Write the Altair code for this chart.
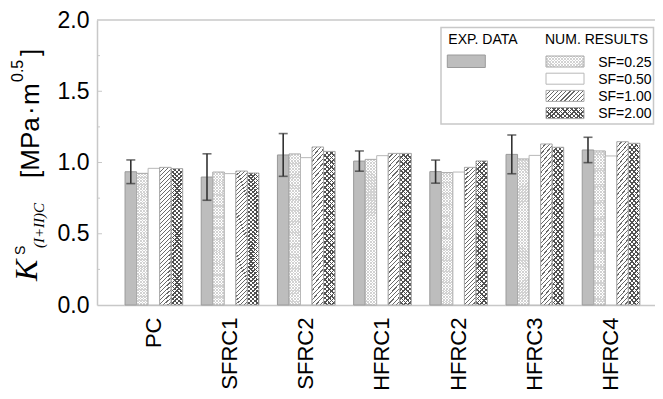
import altair as alt
import pandas as pd

categories = ["PC", "SFRC1", "SFRC2", "HFRC1", "HFRC2", "HFRC3", "HFRC4"]
series = ["EXP. DATA", "SF=0.25", "SF=0.50", "SF=1.00", "SF=2.00"]
exp_mean = [0.935, 0.898, 1.053, 1.010, 0.936, 1.057, 1.088]
exp_err = [0.083, 0.163, 0.150, 0.071, 0.081, 0.136, 0.089]
sf025 = [0.924, 0.933, 1.060, 1.022, 0.929, 1.025, 1.081]
sf050 = [0.959, 0.922, 1.034, 1.048, 0.933, 1.050, 1.046]
sf100 = [0.966, 0.940, 1.109, 1.064, 0.966, 1.130, 1.146]
sf200 = [0.957, 0.926, 1.078, 1.064, 1.011, 1.107, 1.135]
y_major = [0.5, 1.0, 1.5]
y_minor = [0.25, 0.75, 1.25, 1.75]

rows = []
for vals, s in zip([exp_mean, sf025, sf050, sf100, sf200], series):
    for c, v in zip(categories, vals):
        rows.append({"cat": c, "series": s, "value": v})
df = pd.DataFrame(rows)
err = pd.DataFrame({"cat": categories, "series": series[0],
                    "lo": [m - e for m, e in zip(exp_mean, exp_err)],
                    "hi": [m + e for m, e in zip(exp_mean, exp_err)]})
one = pd.DataFrame({"k": [0]})

W, H = 558, 285
FONT = "Liberation Sans"
EDGE = "#a8a8a8"
FRAME = "#c8c8c8"


def hatch(w, h, period, color, frac, bg, back=False):
    r = w / h
    s = (1 + r) / (1 + r * r)
    n = max(1, round((w + h) / period))
    stops = []
    for i in range(n):
        a, b, c = i / n, (i + frac) / n, (i + 1) / n
        stops += [alt.GradientStop(offset=a, color=color),
                  alt.GradientStop(offset=b, color=color),
                  alt.GradientStop(offset=b, color=bg),
                  alt.GradientStop(offset=c, color=bg)]
    x1, x2 = (1, 1 - s * r) if back else (0, s * r)
    return alt.LinearGradient(gradient="linear", stops=stops, x1=x1, y1=0, x2=x2, y2=s)


CLEAR = "rgba(255,255,255,0)"
BW, BH = 11.5, 145
LW, LH = 38, 11


def patterns(w, h):
    return {
        "dot_a": hatch(w, h, 3.0, "#d2d2d2", 0.4, "#ffffff"),
        "dot_b": hatch(w, h, 3.0, "#d2d2d2", 0.4, CLEAR, back=True),
        "diag": hatch(w, h, 4.2, "#6a6a6a", 0.28, "#ffffff"),
        "x_a": hatch(w, h, 4.4, "#505050", 0.34, "#ffffff"),
        "x_b": hatch(w, h, 4.4, "#505050", 0.34, CLEAR, back=True),
    }


PB = patterns(BW, BH)
PL = patterns(LW, LH)

xs = alt.X("cat:N", sort=categories,
           scale=alt.Scale(domain=categories, paddingInner=0.243, paddingOuter=0.283, align=0.65),
           axis=alt.Axis(title=None, labelAngle=270, labelFontSize=22, labelFont=FONT,
                         labelColor="#000", labelPadding=12, tickSize=0, ticks=False,
                         domainColor=FRAME, domainWidth=1.5, labelAlign="right",
                         labelBaseline="middle"))
xo = alt.XOffset("series:N", scale=alt.Scale(domain=series, paddingInner=0, paddingOuter=0))
ys = alt.Y("value:Q", scale=alt.Scale(domain=[0, 2], nice=False),
           axis=alt.Axis(title=None, values=[0, 0.5, 1.0, 1.5, 2.0], format=".1f",
                         labelFontSize=23, labelFont=FONT, labelColor="#000",
                         labelPadding=8, tickSize=0, ticks=False, grid=False,
                         domainColor=FRAME, domainWidth=1.5))

base = alt.Chart(df)


def bars(s, **mk):
    return base.transform_filter(alt.datum.series == s).mark_bar(**mk).encode(x=xs, xOffset=xo, y=ys)


layers = [
    bars(series[0], fill="#bdbdbd", stroke="#9a9a9a", strokeWidth=1),
    bars(series[1], fill=PB["dot_a"], strokeWidth=0),
    bars(series[1], fill=PB["dot_b"], stroke=EDGE, strokeWidth=1),
    bars(series[2], fill="#ffffff", stroke="#b8b8b8", strokeWidth=1),
    bars(series[3], fill=PB["diag"], stroke=EDGE, strokeWidth=1),
    bars(series[4], fill=PB["x_a"], strokeWidth=0),
    bars(series[4], fill=PB["x_b"], stroke=EDGE, strokeWidth=1),
]

eb = alt.Chart(err)
layers += [
    eb.mark_rule(color="#333333", strokeWidth=1.6).encode(
        x=xs, xOffset=xo, y=alt.Y("lo:Q", scale=alt.Scale(domain=[0, 2], nice=False)), y2="hi:Q"),
    eb.mark_tick(color="#333333", size=9, thickness=1.6).encode(
        x=xs, xOffset=xo, y=alt.Y("lo:Q")),
    eb.mark_tick(color="#333333", size=9, thickness=1.6).encode(
        x=xs, xOffset=xo, y=alt.Y("hi:Q")),
]

# top frame line and inward ticks
layers += [
    alt.Chart(one).mark_rule(color=FRAME, strokeWidth=1.5).encode(y=alt.datum(2.0)),
    alt.Chart(pd.DataFrame({"v": y_major})).mark_rule(color=FRAME, strokeWidth=1).encode(
        y="v:Q", x=alt.value(0), x2=alt.value(5)),
    alt.Chart(pd.DataFrame({"v": y_minor})).mark_rule(color=FRAME, strokeWidth=1).encode(
        y="v:Q", x=alt.value(0), x2=alt.value(3)),
]


def txt(text, x, y, size, font=FONT, style="normal", angle=0, align="left"):
    return alt.Chart(one).mark_text(text=text, font=font, fontSize=size, fontStyle=style,
                                    angle=angle, align=align, baseline="alphabetic",
                                    color="#000").encode(x=alt.value(x), y=alt.value(y))


def box(x, x2, y, y2, **mk):
    return alt.Chart(one).mark_rect(**mk).encode(
        x=alt.value(x), x2=alt.value(x2), y=alt.value(y), y2=alt.value(y2))


# legend
LX, SX = 350.3, 449
layers += [
    box(344, 556.5, 7.5, 104, fill="#ffffff", stroke=FRAME, strokeWidth=1.5),
    txt("EXP. DATA", 351.3, 24, 14),
    txt("NUM. RESULTS", 448, 24, 14),
    box(LX, LX + LW, 35, 35 + LH + 1.5, fill="#bdbdbd", stroke="#9a9a9a", strokeWidth=1),
]
row_top = [36, 53.2, 70.4, 87.6]
layers += [
    box(SX, SX + LW, row_top[0], row_top[0] + LH, fill=PL["dot_a"], strokeWidth=0),
    box(SX, SX + LW, row_top[0], row_top[0] + LH, fill=PL["dot_b"], stroke=EDGE, strokeWidth=1),
    box(SX, SX + LW, row_top[1], row_top[1] + LH, fill="#ffffff", stroke="#b8b8b8", strokeWidth=1),
    box(SX, SX + LW, row_top[2], row_top[2] + LH, fill=PL["diag"], stroke=EDGE, strokeWidth=1),
    box(SX, SX + LW, row_top[3], row_top[3] + LH, fill=PL["x_a"], strokeWidth=0),
    box(SX, SX + LW, row_top[3], row_top[3] + LH, fill=PL["x_b"], stroke=EDGE, strokeWidth=1),
]
for s, t in zip(series[1:], row_top):
    layers.append(txt(s, 554.5, t + LH / 2 + 5, 14, align="right"))

# y-axis title pieces
SERIF = "Liberation Serif"
layers += [
    txt("K", -60, 261, 32, font=SERIF, style="italic", angle=270),
    txt("S", -72, 235, 14, angle=270),
    txt("(I+II)C", -53, 228, 15, font=SERIF, style="italic", angle=270),
    txt("[MPa", -58, 158, 26, angle=270),
    txt("·", -58, 95, 26, angle=270),
    txt("m", -58, 85, 26, angle=270),
    txt("0.5", -74, 62, 16, angle=270),
    txt("]", -58, 36, 26, angle=270),
]

chart = alt.layer(*layers).properties(
    width=W, height=H,
    autosize=alt.AutoSizeParams(type="none"),
    padding={"left": 89, "top": 12, "right": 0, "bottom": 86},
    background="#ffffff",
).configure_view(strokeWidth=0)

chart.save("out.html", embed_options={"renderer": "svg", "actions": False})
